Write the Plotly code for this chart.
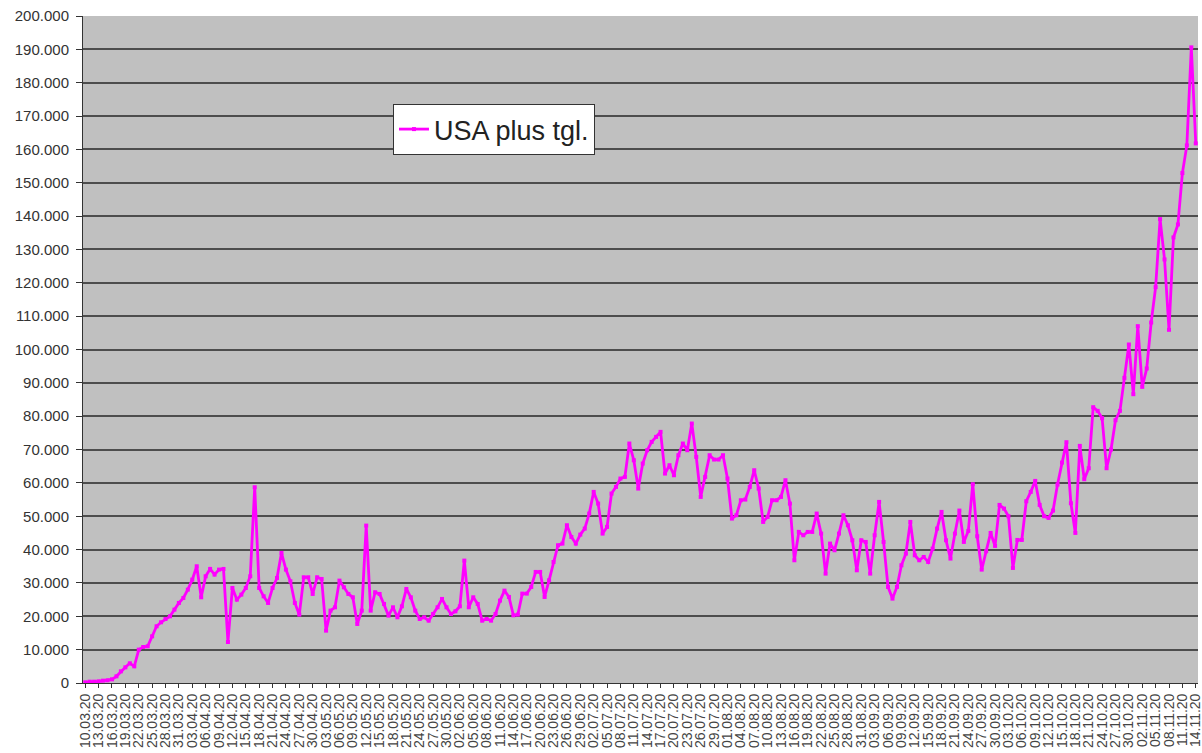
import datetime as dt
import plotly.graph_objects as go

# categories: daily dates 10.03.20 .. 14.11.20
start = dt.date(2020, 3, 10)
n_days = 250
dates = [(start + dt.timedelta(days=i)).strftime("%d.%m.%y") for i in range(n_days)]

series_name = "USA plus tgl."
values = [
    200, 400, 400, 500, 700, 800, 1100, 2000, 3500, 4700,
    5900, 5000, 10000, 10800, 11000, 14000, 17000, 18200, 19200, 20000,
    22000, 24000, 25500, 28000, 31000, 35000, 25700, 32000, 34200, 32500,
    34000, 34200, 12300, 28500, 25000, 26500, 28500, 32000, 58700, 28500,
    26000, 24000, 28500, 31500, 39000, 34000, 30500, 24000, 20500, 31700,
    31700, 26700, 31700, 31200, 15700, 21700, 22700, 30700, 28700, 26700,
    25700, 17700, 21700, 47200, 21700, 27200, 26700, 23700, 20200, 22700,
    19700, 23000, 28200, 25700, 21700, 19200, 19700, 18700, 20700, 22700,
    25200, 22700, 20700, 21500, 23000, 36700, 22700, 25700, 23700, 18700,
    19200, 18700, 20700, 24700, 27700, 25800, 20300, 20500, 26800, 26800,
    28800, 33300, 33300, 25800, 30800, 36300, 41300, 41800, 47300, 43800,
    41800, 44500, 46300, 50800, 57300, 53800, 44800, 46800, 56800, 58800,
    61300, 61800, 71800, 66800, 58300, 65800, 69800, 72300, 73800, 75300,
    62800, 65300, 62300, 68300, 71800, 69800, 77800, 67800, 55800, 61800,
    68300, 67000, 67000, 68300, 61300, 49300, 50300, 54800, 55000, 58800,
    63800, 58300, 48300, 49800, 54800, 54800, 55800, 60800, 53800, 36800,
    45300, 44300, 45300, 45300, 50800, 44800, 32800, 41800, 39800, 44800,
    50300, 47300, 42800, 33800, 42800, 42300, 32800, 44300, 54300, 42300,
    28800, 25300, 28800, 35300, 38800, 48300, 38300, 36800, 37800, 36300,
    40300, 46300, 51300, 42800, 37300, 44800, 51700, 42300, 45600, 59600,
    44000, 34000, 39500, 45000, 41100, 53400, 52300, 50000, 34500, 42900,
    42900, 54500, 57300, 60600, 53400, 50000, 49500, 51700, 59500, 66100,
    72200, 53900, 45000, 71100, 61100, 64400, 82700, 81600, 79400, 64400,
    70000, 78800, 81600, 91500, 101500, 86600, 107000, 88800, 94300, 108100,
    118700, 139100, 127000, 105900, 133600, 137500, 152900, 161200, 190600, 161800,
]

tick_labels = dates[::3]

FONT = "Liberation Sans, Arial, sans-serif"

fig = go.Figure()
fig.add_trace(go.Scatter(
    x=dates, y=values, name=series_name, mode="lines+markers",
    line=dict(color="#FF00FF", width=2.8),
    marker=dict(symbol="square", size=4, color="#FF00FF"),
))

fig.update_layout(
    width=1202, height=753,
    margin=dict(l=83, r=4, t=16, b=70, autoexpand=False),
    paper_bgcolor="white", plot_bgcolor="#C0C0C0",
    separators=",.",
    font=dict(family=FONT, color="#333333"),
    showlegend=True,
    legend=dict(
        x=0.278, y=0.868, xanchor="left", yanchor="top",
        bgcolor="white", bordercolor="#333333", borderwidth=1,
        font=dict(family=FONT, size=27, color="#222222"),
        itemwidth=30,
    ),
)
fig.update_yaxes(
    range=[0, 200000], dtick=10000, tickformat=",d",
    showgrid=True, gridcolor="#4d4d4d", gridwidth=1.6,
    zeroline=False, showline=True, linecolor="#333333", linewidth=1,
    ticks="outside", ticklen=6, tickcolor="#333333",
    ticklabelstandoff=4,
    tickfont=dict(family=FONT, size=15, color="#333333"),
    automargin=False,
)
fig.update_xaxes(
    type="category", range=[-0.5, n_days - 0.5],
    tickmode="array", tickvals=tick_labels, ticktext=tick_labels,
    tickangle=-90, tickfont=dict(family=FONT, size=14, color="#444444"),
    ticks="outside", ticklen=4, tickcolor="#333333",
    showgrid=False, zeroline=False,
    showline=True, linecolor="#333333", linewidth=1,
    automargin=False,
)

fig.write_html(
    "out.html",
    config={"displayModeBar": False},
    post_script="document.body.style.margin='0';document.body.style.overflow='hidden';",
)
